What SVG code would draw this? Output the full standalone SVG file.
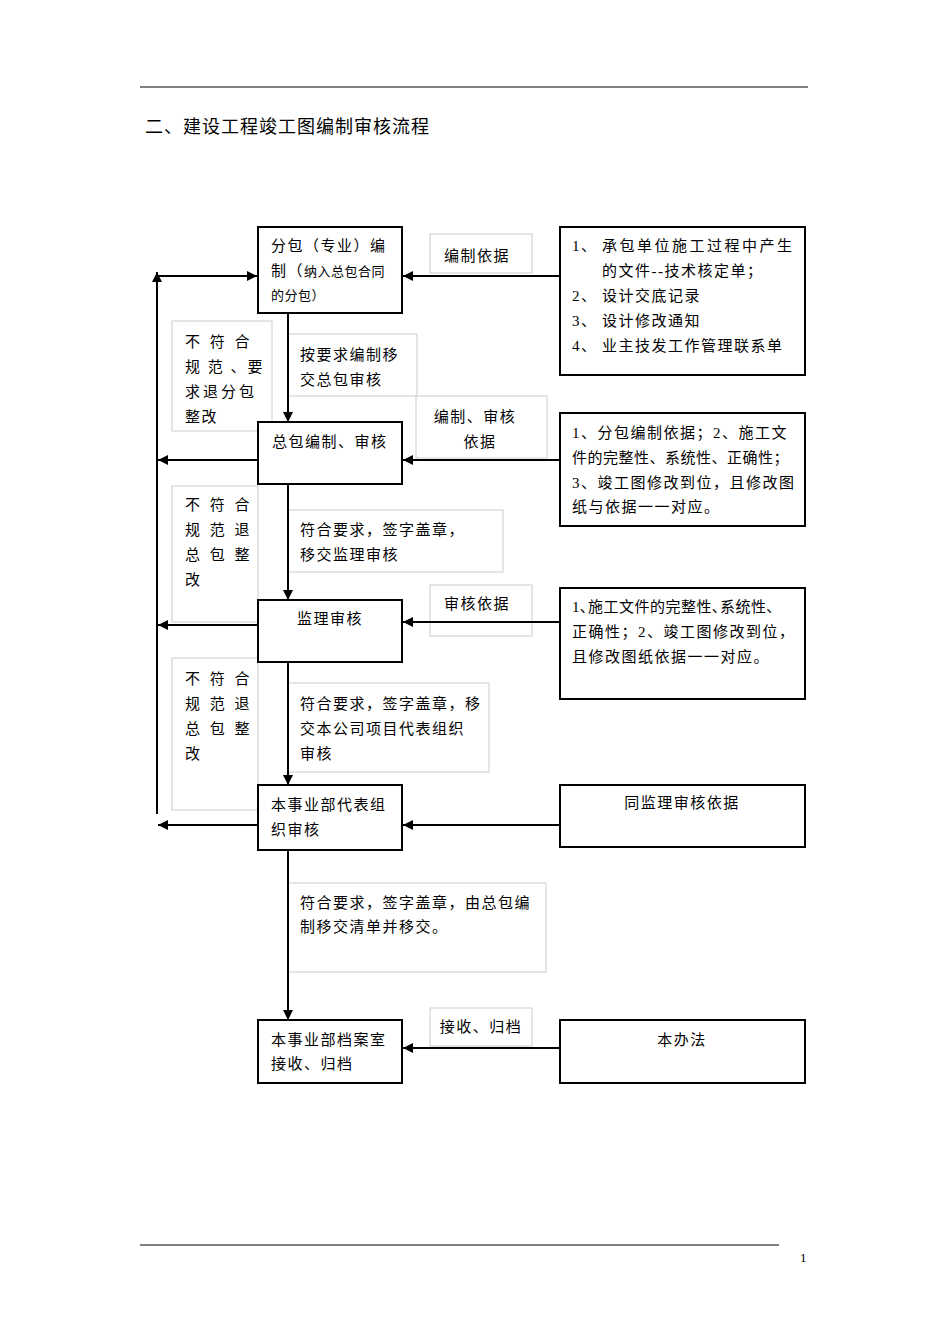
<svg xmlns="http://www.w3.org/2000/svg" width="950" height="1344" viewBox="0 0 950 1344">
<style>
text{font-family:"Liberation Serif","Noto Sans CJK SC",serif;font-size:15px;fill:#000;letter-spacing:1.5px}
.n{fill:#fff;stroke:#000;stroke-width:2}
.l{fill:#fff;stroke:#ccc;stroke-width:1}
.c{stroke:#000;stroke-width:2;fill:none}
.m{text-anchor:middle}
</style>
<defs><marker id="a" viewBox="0 0 10 10" refX="10" refY="5" markerWidth="5" markerHeight="5" orient="auto"><path d="M0,0L10,5L0,10z" fill="#000"/></marker></defs>
<rect width="950" height="1344" fill="#fff"/>
<line x1="140" y1="87" x2="808" y2="87" stroke="#000"/>
<text x="145" y="133" style="font-size:18px;letter-spacing:1px">二、建设工程竣工图编制审核流程</text>
<g id="labels">
<rect class="l" x="172" y="321" width="100" height="110"/>
<text x="185" y="347" style="letter-spacing:3px">不 符 合</text><text x="185" y="372" style="letter-spacing:2px">规 范 、要</text><text x="185" y="397" style="letter-spacing:3px">求退分包</text><text x="185" y="422">整改</text>
<rect class="l" x="172" y="486" width="86" height="136"/>
<text x="185" y="510" style="letter-spacing:3px">不 符 合</text><text x="185" y="535" style="letter-spacing:3px">规 范 退</text><text x="185" y="560" style="letter-spacing:3px">总 包 整</text><text x="185" y="585">改</text>
<rect class="l" x="172" y="658" width="86" height="152"/>
<text x="185" y="684" style="letter-spacing:3px">不 符 合</text><text x="185" y="709" style="letter-spacing:3px">规 范 退</text><text x="185" y="734" style="letter-spacing:3px">总 包 整</text><text x="185" y="759">改</text>
<rect class="l" x="288" y="334" width="129" height="62"/>
<text x="300" y="360">按要求编制移</text><text x="300" y="385">交总包审核</text>
<rect class="l" x="288" y="510" width="215" height="62"/>
<text x="300" y="535">符合要求，签字盖章，</text><text x="300" y="560">移交监理审核</text>
<rect class="l" x="288" y="683" width="201" height="89"/>
<text x="300" y="709">符合要求，签字盖章，移</text><text x="300" y="734">交本公司项目代表组织</text><text x="300" y="759">审核</text>
<rect class="l" x="288" y="883" width="258" height="89"/>
<text x="300" y="908">符合要求，签字盖章，由总包编</text><text x="300" y="932">制移交清单并移交。</text>
<rect class="l" x="430" y="234" width="102" height="39"/><text x="477" y="261" class="m">编制依据</text>
<rect class="l" x="416" y="396" width="131" height="62"/><text x="475" y="422" class="m">编制、审核</text><text x="480" y="447" class="m">依据</text>
<rect class="l" x="430" y="585" width="102" height="51"/><text x="477" y="609" class="m">审核依据</text>
<rect class="l" x="430" y="1008" width="102" height="38"/><text x="481" y="1032" class="m">接收、归档</text>
</g>
<g id="connectors">
<line class="c" x1="288" y1="313" x2="288" y2="422" marker-end="url(#a)"/>
<line class="c" x1="288" y1="484" x2="288" y2="600" marker-end="url(#a)"/>
<line class="c" x1="288" y1="662" x2="288" y2="785" marker-end="url(#a)"/>
<line class="c" x1="288" y1="850" x2="288" y2="1020" marker-end="url(#a)"/>
<line class="c" x1="560" y1="276" x2="403" y2="276" marker-end="url(#a)"/>
<line class="c" x1="560" y1="460" x2="403" y2="460" marker-end="url(#a)"/>
<line class="c" x1="560" y1="622" x2="403" y2="622" marker-end="url(#a)"/>
<line class="c" x1="560" y1="825" x2="403" y2="825" marker-end="url(#a)"/>
<line class="c" x1="560" y1="1048" x2="403" y2="1048" marker-end="url(#a)"/>
<line class="c" x1="258" y1="460" x2="158" y2="460" marker-end="url(#a)"/>
<line class="c" x1="258" y1="625" x2="158" y2="625" marker-end="url(#a)"/>
<line class="c" x1="258" y1="825" x2="158" y2="825" marker-end="url(#a)"/>
<line class="c" x1="157" y1="814" x2="157" y2="272" marker-end="url(#a)"/>
<line class="c" x1="157" y1="276" x2="257" y2="276" marker-end="url(#a)"/>
</g>
<g id="b1"><rect class="n" x="258" y="227" width="144" height="86"/><text x="271" y="251">分包（专业）编</text><text x="271" y="276">制（<tspan style="font-size:13px;letter-spacing:0.5px">纳入总包合同</tspan></text><text x="271" y="300" style="font-size:13px;letter-spacing:0.5px">的分包）</text></g>
<g id="b2"><rect class="n" x="258" y="422" width="144" height="62"/><text x="272" y="447">总包编制、审核</text></g>
<g id="b3"><rect class="n" x="258" y="600" width="144" height="62"/><text x="330" y="624" class="m">监理审核</text></g>
<g id="b4"><rect class="n" x="258" y="785" width="144" height="65"/><text x="271" y="810">本事业部代表组</text><text x="271" y="835">织审核</text></g>
<g id="b5"><rect class="n" x="258" y="1020" width="144" height="63"/><text x="271" y="1045">本事业部档案室</text><text x="271" y="1069">接收、归档</text></g>
<g id="r1"><rect class="n" x="560" y="227" width="245" height="148"/>
<text x="572" y="251">1、</text><text x="602" y="251" style="letter-spacing:2.5px">承包单位施工过程中产生</text><text x="602" y="276">的文件--技术核定单；</text>
<text x="572" y="301">2、</text><text x="602" y="301">设计交底记录</text><text x="572" y="326">3、</text><text x="602" y="326">设计修改通知</text><text x="572" y="351">4、</text><text x="602" y="351">业主技发工作管理联系单</text></g>
<g id="r2"><rect class="n" x="560" y="413" width="245" height="113"/>
<text x="572" y="438">1、分包编制依据；2、施工文</text><text x="572" y="463" style="letter-spacing:0.5px">件的完整性、系统性、正确性；</text><text x="572" y="488">3、竣工图修改到位，且修改图</text><text x="572" y="512">纸与依据一一对应。</text></g>
<g id="r3"><rect class="n" x="560" y="588" width="245" height="111"/>
<text x="572" y="612" style="letter-spacing:0.5px">1､施工文件的完整性､系统性､</text><text x="572" y="637">正确性；2、竣工图修改到位，</text><text x="572" y="662">且修改图纸依据一一对应。</text></g>
<g id="r4"><rect class="n" x="560" y="785" width="245" height="62"/><text x="682" y="808" class="m">同监理审核依据</text></g>
<g id="r5"><rect class="n" x="560" y="1020" width="245" height="63"/><text x="682" y="1045" class="m">本办法</text></g>
<line x1="140" y1="1245" x2="779" y2="1245" stroke="#000"/>
<text x="800" y="1262" style="font-size:13px">1</text>
</svg>
